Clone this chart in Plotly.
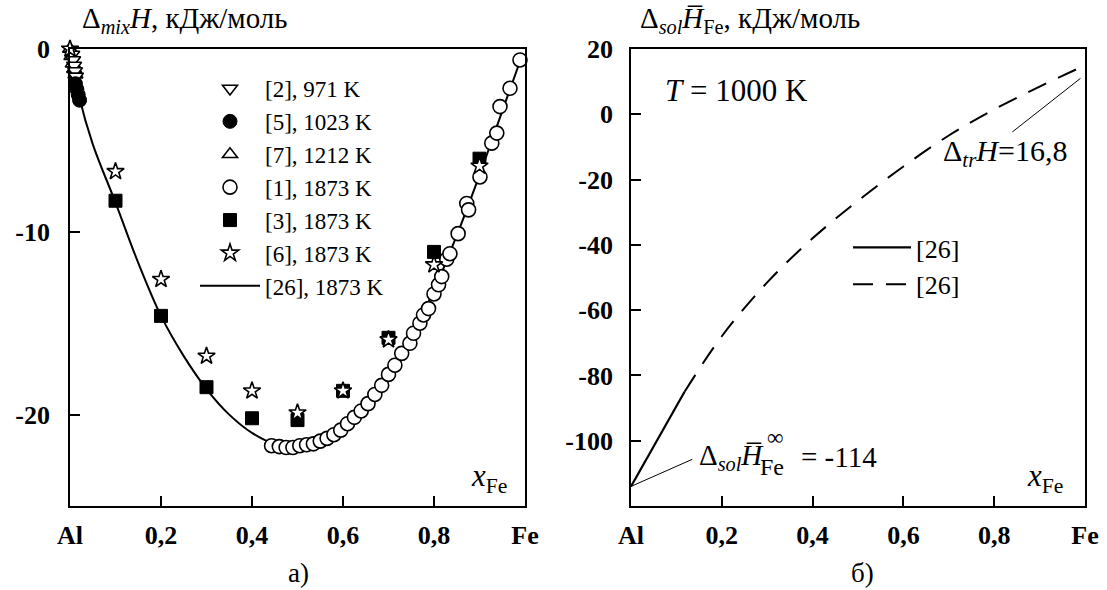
import plotly.graph_objects as go

W, H = 1107, 590
SERIF = "Liberation Serif"

# ---------- panel a): enthalpy of mixing, kJ/mol ----------
# [26], 1873 K model curve
mix_x = [0.0, 0.02, 0.05, 0.1, 0.15, 0.2, 0.25, 0.3, 0.35, 0.4, 0.45, 0.5, 0.55,
         0.6, 0.65, 0.7, 0.75, 0.8, 0.85, 0.9, 0.95, 0.99]
mix_y = [0.0, -2.6, -5.2, -8.4, -11.7, -14.6, -16.8, -18.6, -20.0, -21.0, -21.6,
         -21.7, -21.4, -20.7, -19.5, -17.8, -15.7, -13.2, -10.2, -6.9, -3.4, -0.6]

# [2], 971 K
ref2_x = [0.005, 0.007, 0.009, 0.011, 0.013]
ref2_y = [-0.3, -0.6, -0.9, -1.2, -1.5]
# [5], 1023 K
ref5_x = [0.012, 0.015, 0.018, 0.021]
ref5_y = [-1.9, -2.2, -2.5, -2.8]
# [7], 1212 K
ref7_x = [0.0, 0.003, 0.006, 0.009, 0.012]
ref7_y = [0.0, -0.4, -0.8, -1.1, -1.4]
# [1], 1873 K
ref1_x = [0.443, 0.46, 0.475, 0.49, 0.505, 0.52, 0.535, 0.55, 0.565, 0.58, 0.595,
          0.61, 0.625, 0.64, 0.655, 0.67, 0.685, 0.70, 0.714, 0.729, 0.747, 0.755,
          0.769, 0.777, 0.788, 0.80, 0.81, 0.817, 0.828, 0.835, 0.853, 0.872, 0.876,
          0.901, 0.927, 0.938, 0.945, 0.967, 0.989]
ref1_y = [-21.7, -21.75, -21.8, -21.8, -21.7, -21.65, -21.6, -21.45, -21.3, -21.1,
          -20.85, -20.5, -20.15, -19.8, -19.4, -18.9, -18.4, -17.8, -17.3, -16.65,
          -16.1, -15.55, -15.0, -14.55, -14.2, -13.4, -12.9, -12.45, -11.5, -11.2,
          -10.1, -8.45, -8.8, -7.0, -5.15, -4.6, -3.15, -2.15, -0.6]
# [3], 1873 K
ref3_x = [0.1, 0.2, 0.3, 0.4, 0.5, 0.6, 0.7, 0.8, 0.9]
ref3_y = [-8.3, -14.6, -18.5, -20.2, -20.3, -18.7, -15.8, -11.1, -6.0]
# [6], 1873 K
ref6_x = [0.0, 0.1, 0.2, 0.3, 0.4, 0.5, 0.6, 0.7, 0.8, 0.9]
ref6_y = [0.0, -6.7, -12.6, -16.8, -18.7, -19.9, -18.7, -15.9, -11.8, -6.4]

# ---------- panel б): partial enthalpy of solution of Fe, kJ/mol ----------
sol_solid_x = [0.0, 0.118]
sol_solid_y = [-114.0, -85.0]
sol_dash_x = [0.118, 0.2, 0.3, 0.4, 0.5, 0.6, 0.7, 0.8, 0.9, 1.0]
sol_dash_y = [-85.0, -68.0, -51.5, -38.0, -26.5, -16.0, -6.5, 1.5, 8.5, 15.0]

dH_inf = -114
dH_tr = 16.8

x_ticks = [0, 0.2, 0.4, 0.6, 0.8, 1.0]
x_ticktext = ["Al", "0,2", "0,4", "0,6", "0,8", "Fe"]
ya_ticks = [0, -10, -20]
yb_ticks = [20, 0, -20, -40, -60, -80, -100]

fig = go.Figure()


def open_marker(symbol, size=14):
    return dict(symbol=symbol, size=size, color="white",
                line=dict(color="black", width=1.6))


def filled_marker(symbol, size=14):
    return dict(symbol=symbol, size=size, color="black",
                line=dict(color="black", width=1))


common = dict(mode="markers", xaxis="x", yaxis="y", cliponaxis=False, legend="legend")

fig.add_trace(go.Scatter(x=mix_x, y=mix_y, mode="lines", name="[26], 1873 K",
                         line=dict(color="black", width=2, shape="spline"),
                         xaxis="x", yaxis="y", legend="legend", legendrank=7))
fig.add_trace(go.Scatter(x=ref1_x, y=ref1_y, name="[1], 1873 K",
                         marker=open_marker("circle", 14), legendrank=4, **common))
fig.add_trace(go.Scatter(x=ref7_x, y=ref7_y, name="[7], 1212 K",
                         marker=open_marker("triangle-up", 13), legendrank=3, **common))
fig.add_trace(go.Scatter(x=ref2_x, y=ref2_y, name="[2], 971 K",
                         marker=open_marker("triangle-down", 13), legendrank=1, **common))
fig.add_trace(go.Scatter(x=ref5_x, y=ref5_y, name="[5], 1023 K",
                         marker=filled_marker("circle", 14), legendrank=2, **common))
fig.add_trace(go.Scatter(x=ref3_x, y=ref3_y, name="[3], 1873 K",
                         marker=filled_marker("square", 13), legendrank=5, **common))
fig.add_trace(go.Scatter(x=ref6_x, y=ref6_y, name="[6], 1873 K",
                         marker=open_marker("star", 13), legendrank=6, **common))

fig.add_trace(go.Scatter(x=sol_solid_x, y=sol_solid_y, mode="lines", name="[26]",
                         line=dict(color="black", width=2.2),
                         xaxis="x2", yaxis="y2", legend="legend2",
                         legendgroup="h1", legendrank=1))
fig.add_trace(go.Scatter(x=sol_dash_x, y=sol_dash_y, mode="lines", name="[26]",
                         line=dict(color="black", width=2, dash="20px,13px",
                                   shape="spline"),
                         xaxis="x2", yaxis="y2", legend="legend2",
                         legendgroup="h2", legendrank=2))

x_left = [70 / W, 525 / W]
x_right = [631 / W, 1085 / W]
y_dom = [(H - 506) / H, (H - 49) / H]

tickfont = dict(family=SERIF, size=26, color="black", weight="bold")
axis_common = dict(showline=True, mirror=True, linecolor="black", linewidth=1.6,
                   ticks="inside", ticklen=10, tickwidth=1.6, tickcolor="black",
                   showgrid=False, zeroline=False, tickfont=tickfont,
                   automargin=False)

fig.update_layout(
    width=W, height=H,
    margin=dict(l=0, r=0, t=0, b=0, autoexpand=False),
    paper_bgcolor="white", plot_bgcolor="white",
    font=dict(family=SERIF, color="black"),
    xaxis=dict(domain=x_left, range=[0, 1], tickvals=x_ticks, ticktext=x_ticktext,
               ticklabelstandoff=5, anchor="y", **axis_common),
    yaxis=dict(domain=y_dom, range=[-25, 0], tickvals=ya_ticks,
               ticktext=[str(v) for v in ya_ticks], ticklabelstandoff=13,
               anchor="x", **axis_common),
    xaxis2=dict(domain=x_right, range=[0, 1], tickvals=x_ticks, ticktext=x_ticktext,
                ticklabelstandoff=5, anchor="y2", **axis_common),
    yaxis2=dict(domain=y_dom, range=[-120, 20], tickvals=yb_ticks,
                ticktext=[str(v) for v in yb_ticks], ticklabelstandoff=11,
                anchor="x2", **axis_common),
    legend=dict(x=195 / W, y=1 - 67 / H, xanchor="left", yanchor="top",
                bgcolor="rgba(0,0,0,0)", font=dict(family=SERIF, size=23, color="black"),
                itemwidth=60, traceorder="normal"),
    legend2=dict(x=848 / W, y=1 - 224 / H, xanchor="left", yanchor="top",
                 bgcolor="rgba(0,0,0,0)", font=dict(family=SERIF, size=26, color="black"),
                 tracegroupgap=8, itemwidth=58, traceorder="normal"),
    showlegend=True,
)


def paper_text(text, px, py, xanchor="left", size=29, **kw):
    fig.add_annotation(text=text, x=px / W, y=1 - py / H, xref="paper", yref="paper",
                       xanchor=xanchor, yanchor="middle", showarrow=False,
                       font=dict(family=SERIF, size=size, color="black"), **kw)


# axis captions
paper_text("Δ<sub><i>mix</i></sub><i>H</i>, кДж/моль", 80, 20)
paper_text("Δ<sub><i>sol</i></sub><i>H̅</i><sub>Fe</sub>, кДж/моль", 638, 20)
paper_text("<i>x</i><sub>Fe</sub>", 469, 478, size=31)
paper_text("<i>x</i><sub>Fe</sub>", 1025, 478, size=31)
paper_text("а)", 298, 573, xanchor="center", size=27)
paper_text("б)", 862, 573, xanchor="center", size=27)

# notes in panel б)
paper_text("<i>T</i> = 1000 K", 663, 90, size=31)
paper_text("Δ<sub><i>tr</i></sub><i>H</i>=" + f"{dH_tr}".replace(".", ","), 941, 153, size=30)
paper_text("Δ<sub><i>sol</i></sub><i>H̅</i>", 697, 457)
paper_text("Fe", 758, 467, size=24)
paper_text("∞", 775, 437, xanchor="center", size=23)
paper_text(f"= {dH_inf}", 799, 457)

# leader lines to the curve ends
fig.add_shape(type="line", xref="x2", yref="y2", x0=sol_solid_x[0], y0=dH_inf,
              x1=0.135, y1=-105.7, line=dict(color="black", width=1))
fig.add_shape(type="line", xref="x2", yref="y2", x0=0.84, y0=-5.4,
              x1=0.99, y1=sol_dash_y[-1] - 4, line=dict(color="black", width=1))

fig.write_html("out.html")
